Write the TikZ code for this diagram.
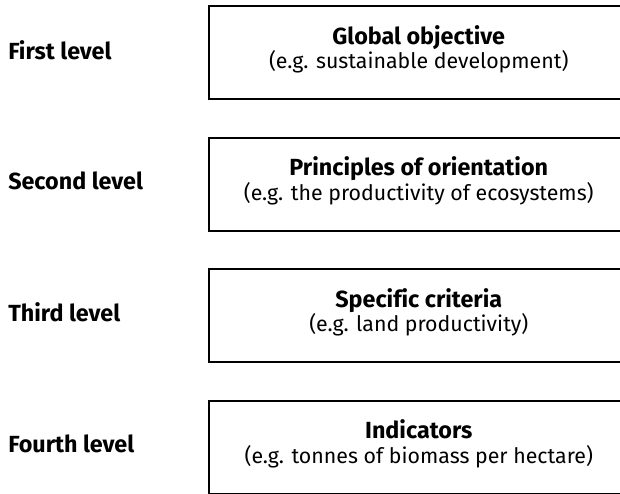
\documentclass[tikz,border=0pt]{standalone}
\usepackage{fontspec}
\setmainfont{Fira Sans}[Ligatures=NoCommon]
\usepackage{tikz}

\begin{document}
\begin{tikzpicture}
  [x=0.75pt, y=-0.75pt,
   level box/.style={draw, line width=1.5pt, rectangle, align=center,
     minimum width=313.9pt, minimum height=69.75pt, inner sep=0pt,
     text depth=8pt, font=\fontsize{16}{18.5}\selectfont},
   level label/.style={anchor=west, inner sep=0pt,
     font=\fontsize{17.5}{20}\selectfont\bfseries}]
  \clip (0, 0) rectangle (620, 493);
  \node[level box] (boxA) at (418.75, 52.5)
    {{\fontsize{17.5}{18.5}\selectfont\bfseries Global objective}\\(e.g. sustainable development)};
  \node[level box] (boxB) at (418.75, 184)
    {{\fontsize{17.5}{18.5}\selectfont\bfseries Principles of orientation}\\(e.g. the productivity of ecosystems)};
  \node[level box] (boxC) at (418.75, 315.5)
    {{\fontsize{17.5}{18.5}\selectfont\bfseries Specific criteria}\\(e.g. land productivity)};
  \node[level box] (boxD) at (418.75, 447)
    {{\fontsize{17.5}{18.5}\selectfont\bfseries Indicators}\\(e.g. tonnes of biomass per hectare)};
  \node[level label] (lvlA) at (8, 50) {First level};
  \node[level label] (lvlB) at (8, 181) {Second level};
  \node[level label] (lvlC) at (8, 312.5) {Third level};
  \node[level label] (lvlD) at (8, 444) {Fourth level};
\end{tikzpicture}
\end{document}
